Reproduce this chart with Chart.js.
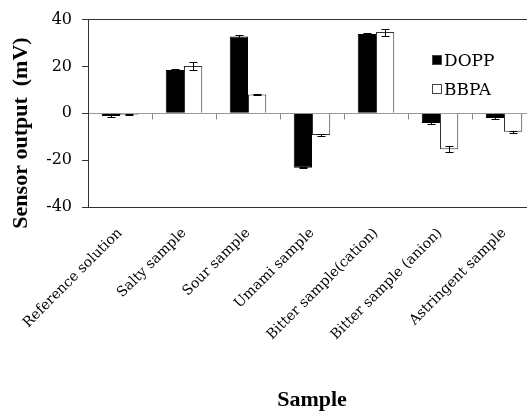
<!DOCTYPE html>
<html>
<head>
<meta charset="utf-8">
<script src="https://cdn.jsdelivr.net/npm/chart.js@4.4.1/dist/chart.umd.min.js"></script>
<style>
  body { margin: 0; background: #fff; overflow: hidden; }
  #wrap { width: 545px; height: 411px; }
</style>
</head>
<body>
<div id="wrap"><canvas id="grafico" width="545" height="411"></canvas></div>
<script>
// datos
const muestras = ["Reference solution", "Salty sample", "Sour sample", "Umami sample",
  "Bitter sample(cation)", "Bitter sample (anion)", "Astringent sample"];
const dopp = [-1.2, 18.5, 32.8, -23.2, 33.8, -4.1, -2.0];
const doppErr = [0.3, 0.3, 0.8, 0.3, 0.5, 0.3, 0.3];
const bbpa = [-0.6, 20.2, 8.0, -9.3, 34.7, -15.3, -7.9];
const bbpaErr = [0.2, 1.8, 0.3, 0.4, 1.5, 1.3, 0.4];
const yTicks = [-40, -20, 0, 20, 40];

const serif = "'Liberation Serif', 'Times New Roman', serif";
const serifAncha = "'DejaVu Serif', serif";

// barras de error, marcas sobre el eje cero, leyenda y titulo vertical
const extras = {
  id: "extras",
  afterDatasetsDraw(chart) {
    const ctx = chart.ctx;
    const y = chart.scales.y;
    const x = chart.scales.x;
    const errores = [doppErr, bbpaErr];
    ctx.save();
    ctx.strokeStyle = "#000";
    ctx.lineWidth = 1;
    chart.data.datasets.forEach((ds, d) => {
      const meta = chart.getDatasetMeta(d);
      meta.data.forEach((bar, i) => {
        const v = ds.data[i], e = errores[d][i];
        const y1 = Math.round(y.getPixelForValue(v + e)) + 0.5;
        const y2 = Math.round(y.getPixelForValue(v - e)) + 0.5;
        const bx = Math.round(bar.x) + 0.5;
        ctx.beginPath();
        ctx.moveTo(bx, y1); ctx.lineTo(bx, y2);
        ctx.moveTo(bx - 4, y1); ctx.lineTo(bx + 4, y1);
        ctx.moveTo(bx - 4, y2); ctx.lineTo(bx + 4, y2);
        ctx.stroke();
      });
    });
    // marcas del eje de categorias sobre la linea cero
    const y0 = Math.round(y.getPixelForValue(0)) + 0.5;
    const paso = x.getPixelForTick(1) - x.getPixelForTick(0);
    ctx.strokeStyle = "#888";
    for (let i = 0; i < muestras.length; i++) {
      const px = Math.round(x.getPixelForTick(i) + paso / 2) + 0.5;
      ctx.beginPath();
      ctx.moveTo(px, y0); ctx.lineTo(px, y0 + 6);
      ctx.stroke();
    }
    // leyenda dentro del area
    const items = [["DOPP", "#000"], ["BBPA", "#fff"]];
    ctx.font = "17px " + serifAncha;
    ctx.textBaseline = "alphabetic";
    ctx.textAlign = "left";
    items.forEach((it, k) => {
      const cy = 60 + k * 29;
      ctx.fillStyle = it[1];
      ctx.fillRect(432, cy - 5, 10, 10);
      ctx.strokeStyle = "#444";
      ctx.strokeRect(432.5, cy - 4.5, 9, 9);
      ctx.fillStyle = "#000";
      ctx.fillText(it[0], 444, cy + 6);
    });
    // titulo del eje y
    ctx.translate(21, 133);
    ctx.rotate(-Math.PI / 2);
    ctx.font = "bold 22px " + serif;
    ctx.textAlign = "center";
    ctx.textBaseline = "middle";
    ctx.fillText("Sensor output  (mV)", 0, 0);
    ctx.restore();
  }
};

new Chart(document.getElementById("grafico"), {
  type: "bar",
  data: {
    labels: muestras,
    datasets: [
      { label: "DOPP", data: dopp, backgroundColor: "#000", borderColor: "#000", borderWidth: 1,
        categoryPercentage: 0.57, barPercentage: 1 },
      { label: "BBPA", data: bbpa, backgroundColor: "#fff", borderColor: "#333", borderWidth: 1,
        categoryPercentage: 0.57, barPercentage: 1 }
    ]
  },
  options: {
    responsive: false,
    animation: false,
    devicePixelRatio: 1,
    layout: { padding: { top: 18, right: 9, left: 0, bottom: 0 } },
    plugins: { legend: { display: false }, tooltip: { enabled: false } },
    scales: {
      x: {
        grid: { display: false, drawTicks: false },
        border: { display: false },
        ticks: {
          color: "#000", font: { family: serifAncha, size: 14 },
          minRotation: 45, maxRotation: 45, padding: 18, autoSkip: false
        },
        title: {
          display: true, text: "Sample", color: "#000",
          font: { family: serif, size: 22, weight: "bold", lineHeight: 1 }, padding: { top: 0, bottom: 0 }
        },
        afterFit(scale) { scale.height = 204; }
      },
      y: {
        min: -40, max: 40,
        afterBuildTicks(scale) { scale.ticks = yTicks.map(v => ({ value: v })); },
        grid: {
          color: c => (c.tick.value === 0 ? "#999" : (Math.abs(c.tick.value) === 40 ? "#333" : "rgba(0,0,0,0)")),
          tickColor: "#333", tickLength: 6, lineWidth: 1
        },
        border: { display: true, color: "#333", width: 1 },
        ticks: { color: "#000", font: { family: serifAncha, size: 16 }, padding: 10 },
        title: { display: false },
        afterFit(scale) { scale.width = 88; }
      }
    }
  },
  plugins: [extras]
});
</script>
</body>
</html>
